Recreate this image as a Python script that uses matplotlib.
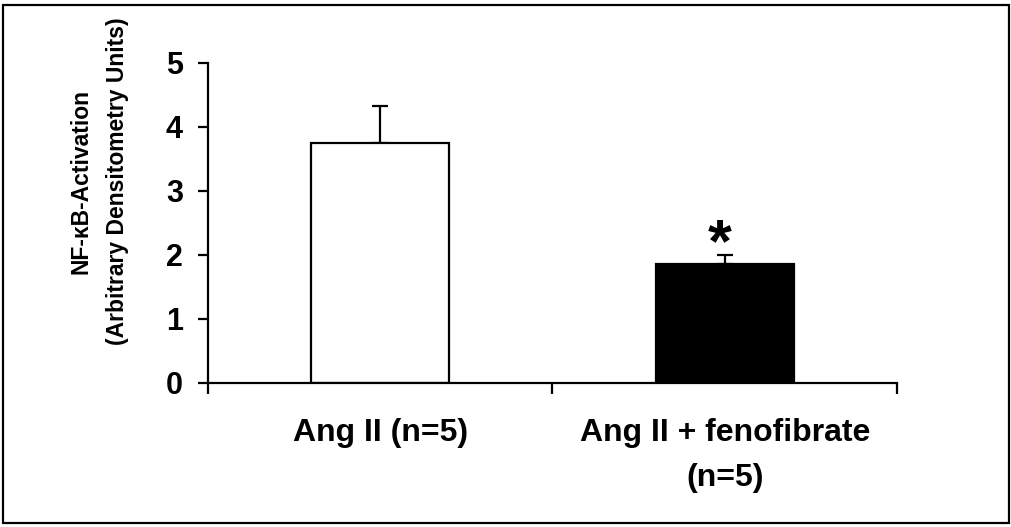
import matplotlib
matplotlib.use("Agg")
import matplotlib.pyplot as plt
from matplotlib.patches import Rectangle

plt.rcParams['font.family'] = ['Liberation Sans', 'DejaVu Sans']
plt.rcParams['font.weight'] = 'bold'

categories = ["Ang II (n=5)", "Ang II + fenofibrate\n(n=5)"]
values = [3.75, 1.86]
errors = [0.58, 0.14]
bar_colors = ["white", "black"]
yticks = [0, 1, 2, 3, 4, 5]
ylabel = "NF-\u03baB-Activation\n(Arbitrary Densitometry Units)"

W, H = 1012, 527
fig = plt.figure(figsize=(W / 100, H / 100), dpi=100)
ax = fig.add_axes([208 / W, 1 - 383 / H, (897 - 208) / W, (383 - 63) / H])

x = [0.5, 1.5]
ax.bar(x, values, width=0.4, color=bar_colors, edgecolor="black", linewidth=1.6, zorder=2)
ax.errorbar(x, values, yerr=[[0, 0], errors], fmt="none", ecolor="black",
            elinewidth=1.6, capsize=6, capthick=1.6, zorder=1)

ax.set_xlim(0, 2)
ax.set_ylim(0, 5)
ax.set_yticks(yticks)
ax.set_yticklabels([str(t) for t in yticks], fontsize=22, fontweight='bold')
ax.set_xticks([0, 1, 2])
ax.set_xticklabels([])
ax.tick_params(axis='y', direction='out', length=7, width=1.6, pad=11)
ax.tick_params(axis='x', direction='out', length=8, width=1.6)
for s in ['top', 'right']:
    ax.spines[s].set_visible(False)
for s in ['left', 'bottom']:
    ax.spines[s].set_linewidth(1.6)

for xi, lab in zip(x, categories):
    ax.text(xi, -0.11, lab, transform=ax.get_xaxis_transform(), ha='center', va='top',
            fontsize=23, fontweight='bold', linespacing=1.65)

# significance asterisk
ax.text(1.5 - 0.015, values[1] + errors[1] - 0.3, "*", ha='center', va='bottom',
        fontsize=44, fontweight='bold')

fig.text(99 / W, 1 - 181 / H, ylabel, rotation=90, ha='center', va='center',
         fontsize=16.5, fontweight='bold', linespacing=1.75)

fig.patches.append(Rectangle((3 / W, 4 / H), 1006 / W, 518 / H, transform=fig.transFigure,
                             fill=False, edgecolor='black', linewidth=1.6))

fig.savefig("out.png", dpi=100)
